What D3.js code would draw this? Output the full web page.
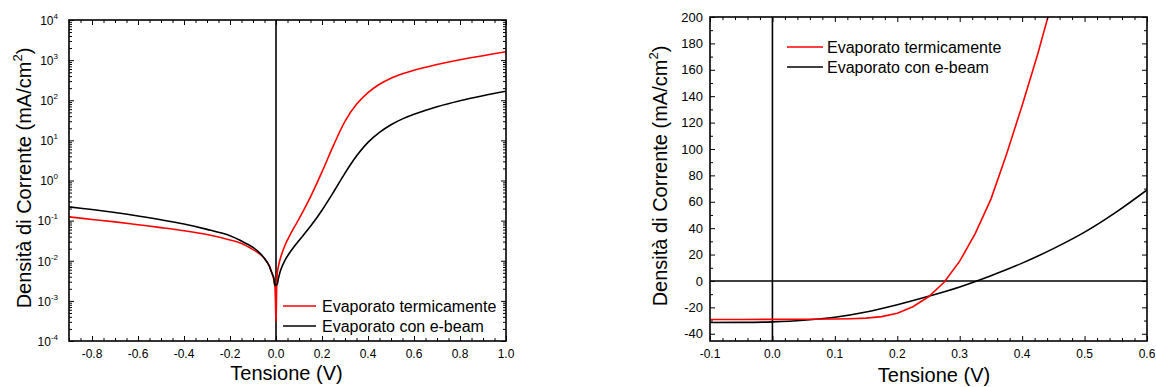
<!DOCTYPE html>
<html>
<head>
<meta charset="utf-8">
<script src="https://cdn.jsdelivr.net/npm/d3@7"></script>
<style>
  html, body { margin: 0; padding: 0; background: #fff; }
  svg { display: block; }
  text { font-family: "Liberation Sans", Arial, sans-serif; fill: #000; }
</style>
</head>
<body>
<svg id="chart" width="1156" height="387"></svg>
<script>
// ---- Series names ----
const seriesNames = ["Evaporato termicamente", "Evaporato con e-beam"];
const seriesColors = ["#ff0000", "#000000"];

// ---- Left panel: |J| (mA/cm²) vs V, log scale ----
const thermV_log = [-0.9, -0.8, -0.7, -0.6, -0.5, -0.4, -0.3, -0.2, -0.15, -0.1, -0.07, -0.05, -0.03, -0.02, -0.01, -0.005, 0.0,
  0.005, 0.01, 0.02, 0.04, 0.06, 0.08, 0.10, 0.15, 0.20, 0.25, 0.30, 0.35, 0.40,
  0.45, 0.50, 0.55, 0.60, 0.70, 0.80, 0.90, 1.00];
const thermJ_log = [0.124, 0.107, 0.093, 0.079, 0.067, 0.056, 0.045, 0.033, 0.027, 0.019, 0.0146, 0.0114, 0.0078, 0.0053, 0.0035, 0.0024, 0.0003,
  0.0045, 0.007, 0.012, 0.025, 0.043, 0.07, 0.11, 0.39, 1.64, 7.5, 29.9, 79, 155,
  251, 355, 457, 562, 776, 1023, 1288, 1622];

const ebeamV_log = [-0.9, -0.8, -0.7, -0.6, -0.5, -0.4, -0.3, -0.2, -0.15, -0.1, -0.07, -0.05, -0.03, -0.02, -0.01, -0.005, 0.0,
  0.005, 0.01, 0.02, 0.04, 0.06, 0.08, 0.10, 0.15, 0.20, 0.25, 0.30, 0.35, 0.40,
  0.45, 0.50, 0.55, 0.60, 0.70, 0.80, 0.90, 1.00];
const ebeamJ_log = [0.22, 0.189, 0.159, 0.131, 0.105, 0.082, 0.0605, 0.042, 0.031, 0.0215, 0.0155, 0.0114, 0.0075, 0.0053, 0.0039, 0.0025, 0.0025,
  0.0026, 0.0035, 0.0058, 0.0105, 0.016, 0.023, 0.032, 0.072, 0.182, 0.513, 1.53, 4.07, 8.9,
  15.8, 24.5, 34.3, 44.7, 69.2, 97.7, 130, 168];

// ---- Right panel: J (mA/cm²) vs V, linear scale ----
const thermV_lin = [-0.1, -0.05, 0.0, 0.05, 0.1, 0.125, 0.15, 0.175, 0.2, 0.225, 0.25, 0.275, 0.3, 0.325, 0.35, 0.375, 0.4, 0.425, 0.45];
const thermJ_lin = [-29.2, -29.2, -29.1, -29.0, -28.8, -28.6, -28.2, -27.0, -24.5, -19.5, -12.0, -1.0, 15, 36, 62, 96, 133, 172, 215];

const ebeamV_lin = [-0.1, -0.05, 0.0, 0.05, 0.1, 0.15, 0.2, 0.25, 0.3, 0.35, 0.4, 0.45, 0.5, 0.55, 0.6];
const ebeamJ_lin = [-31.5, -31.4, -31.0, -29.8, -27.5, -23.5, -18.0, -11.6, -4.5, 4.0, 13.5, 24.5, 37, 52, 69];

// ---- Tick labels ----
const leftXTicks = [-0.8, -0.6, -0.4, -0.2, 0.0, 0.2, 0.4, 0.6, 0.8, 1.0];
const leftXTickLabels = ["-0.8", "-0.6", "-0.4", "-0.2", "0.0", "0.2", "0.4", "0.6", "0.8", "1.0"];
const leftYExponents = [-4, -3, -2, -1, 0, 1, 2, 3, 4];
const rightXTicks = [-0.1, 0.0, 0.1, 0.2, 0.3, 0.4, 0.5, 0.6];
const rightXTickLabels = ["-0.1", "0.0", "0.1", "0.2", "0.3", "0.4", "0.5", "0.6"];
const rightYTicks = [-40, -20, 0, 20, 40, 60, 80, 100, 120, 140, 160, 180, 200];
const rightYTickLabels = ["-40", "-20", "0", "20", "40", "60", "80", "100", "120", "140", "160", "180", "200"];

const xTitle = "Tensione (V)";
const yTitleMain = "Densità di Corrente (mA/cm";
const yTitleSup = "2";

const svg = d3.select("#chart");

const MAJOR = 5, MINOR = 3;

function range(a, b, step) {
  const out = [];
  const n = Math.round((b - a) / step);
  for (let i = 0; i <= n; i++) out.push(+(a + i * step).toFixed(6));
  return out;
}

function drawTicks(g, axisFn, scale, values, size, transform) {
  g.append("g")
    .attr("transform", transform)
    .call(axisFn(scale).tickValues(values).tickSizeInner(size).tickSizeOuter(0).tickFormat(""))
    .call(s => s.select(".domain").remove())
    .call(s => s.selectAll(".tick line").attr("stroke", "#000").attr("stroke-width", 1));
}

function frame(g, x0, y0, x1, y1) {
  g.append("rect")
    .attr("x", x0).attr("y", y0)
    .attr("width", x1 - x0).attr("height", y1 - y0)
    .attr("fill", "none").attr("stroke", "#000").attr("stroke-width", 1.6);
}

function yTitle(g, x, yc) {
  const t = g.append("text")
    .attr("transform", `translate(${x},${yc}) rotate(-90)`)
    .attr("text-anchor", "middle")
    .attr("font-size", 20);
  t.append("tspan").text(yTitleMain);
  t.append("tspan").attr("font-size", 13).attr("dy", -9).text(yTitleSup);
  t.append("tspan").attr("dy", 9).text(")");
}

function legend(g, x0, x1, tx, y0) {
  seriesNames.forEach((name, i) => {
    const y = y0 + i * 20;
    g.append("line").attr("x1", x0).attr("x2", x1).attr("y1", y).attr("y2", y)
      .attr("stroke", seriesColors[i]).attr("stroke-width", 1.6);
    g.append("text").attr("x", tx).attr("y", y).attr("dy", "0.36em")
      .attr("font-size", 16).text(name);
  });
}

// =================== Left panel ===================
{
  const L = 69, R = 506, T = 20, B = 341;
  const g = svg.append("g");
  const x = d3.scaleLinear().domain([-0.9, 1.0]).range([L, R]);
  const y = d3.scaleLog().domain([1e-4, 1e4]).range([B, T]);

  svg.append("clipPath").attr("id", "clipL").append("rect")
    .attr("x", L).attr("y", T).attr("width", R - L).attr("height", B - T);

  // zero-voltage line
  g.append("line").attr("x1", x(0)).attr("x2", x(0)).attr("y1", T).attr("y2", B)
    .attr("stroke", "#000").attr("stroke-width", 1.6);

  const line = d3.line().curve(d3.curveCatmullRom.alpha(0.5));
  // thermal (red) first, e-beam (black) on top
  [[thermV_log, thermJ_log, seriesColors[0]], [ebeamV_log, ebeamJ_log, seriesColors[1]]]
    .forEach(([vs, js, c]) => {
      g.append("path")
        .attr("clip-path", "url(#clipL)")
        .attr("d", line(vs.map((v, i) => [x(v), y(js[i])])))
        .attr("fill", "none").attr("stroke", c).attr("stroke-width", 1.6);
    });

  // ticks
  const xMinor = range(-0.9, 1.0, 0.05).filter(v => !leftXTicks.some(t => Math.abs(t - v) < 1e-6));
  drawTicks(g, d3.axisBottom, x, leftXTicks, -MAJOR, `translate(0,${B})`);
  drawTicks(g, d3.axisBottom, x, xMinor, -MINOR, `translate(0,${B})`);
  drawTicks(g, d3.axisTop, x, leftXTicks, -MAJOR, `translate(0,${T})`);
  drawTicks(g, d3.axisTop, x, xMinor, -MINOR, `translate(0,${T})`);

  const yMajor = leftYExponents.map(e => Math.pow(10, e));
  const yMinor = [];
  leftYExponents.slice(0, -1).forEach(e => { for (let k = 2; k <= 9; k++) yMinor.push(k * Math.pow(10, e)); });
  drawTicks(g, d3.axisLeft, y, yMajor, -MAJOR, `translate(${L},0)`);
  drawTicks(g, d3.axisLeft, y, yMinor, -MINOR, `translate(${L},0)`);
  drawTicks(g, d3.axisRight, y, yMajor, -MAJOR, `translate(${R},0)`);
  drawTicks(g, d3.axisRight, y, yMinor, -MINOR, `translate(${R},0)`);

  frame(g, L, T, R, B);

  // tick labels
  leftXTicks.forEach((v, i) => {
    g.append("text").attr("x", x(v)).attr("y", 358).attr("text-anchor", "middle")
      .attr("font-size", 12).text(leftXTickLabels[i]);
  });
  leftYExponents.forEach(e => {
    const t = g.append("text").attr("x", 58).attr("y", y(Math.pow(10, e))).attr("dy", "0.4em")
      .attr("text-anchor", "end").attr("font-size", 12);
    t.append("tspan").text("10");
    t.append("tspan").attr("font-size", 8).attr("dy", -6).text(String(e));
  });

  g.append("text").attr("x", (L + R) / 2 - 1).attr("y", 380).attr("text-anchor", "middle")
    .attr("font-size", 20).text(xTitle);
  yTitle(g, 31, 178);

  legend(g, 283, 316, 322, 306);
}

// =================== Right panel ===================
{
  const L = 710, R = 1147, T = 17, B = 341;
  const g = svg.append("g");
  const x = d3.scaleLinear().domain([-0.1, 0.6]).range([L, R]);
  const y = d3.scaleLinear().domain([-45.5, 200]).range([B, T]);

  svg.append("clipPath").attr("id", "clipR").append("rect")
    .attr("x", L).attr("y", T).attr("width", R - L).attr("height", B - T);

  // reference axes at V = 0 and J = 0
  g.append("line").attr("x1", x(0)).attr("x2", x(0)).attr("y1", T).attr("y2", B)
    .attr("stroke", "#000").attr("stroke-width", 1.6);
  g.append("line").attr("x1", L).attr("x2", R).attr("y1", y(0)).attr("y2", y(0))
    .attr("stroke", "#000").attr("stroke-width", 1.6);

  const lineLin = d3.line();
  const lineSmooth = d3.line().curve(d3.curveMonotoneX);
  g.append("path").attr("clip-path", "url(#clipR)")
    .attr("d", lineSmooth(ebeamV_lin.map((v, i) => [x(v), y(ebeamJ_lin[i])])))
    .attr("fill", "none").attr("stroke", seriesColors[1]).attr("stroke-width", 1.6);
  g.append("path").attr("clip-path", "url(#clipR)")
    .attr("d", lineLin(thermV_lin.map((v, i) => [x(v), y(thermJ_lin[i])])))
    .attr("fill", "none").attr("stroke", seriesColors[0]).attr("stroke-width", 1.6);

  const xMinor = range(-0.1, 0.6, 0.02).filter(v => !rightXTicks.some(t => Math.abs(t - v) < 1e-6));
  const yMinor = range(-40, 190, 10).filter(v => !rightYTicks.includes(v));
  drawTicks(g, d3.axisBottom, x, rightXTicks, -MAJOR, `translate(0,${B})`);
  drawTicks(g, d3.axisBottom, x, xMinor, -MINOR, `translate(0,${B})`);
  drawTicks(g, d3.axisTop, x, rightXTicks, -MAJOR, `translate(0,${T})`);
  drawTicks(g, d3.axisTop, x, xMinor, -MINOR, `translate(0,${T})`);
  drawTicks(g, d3.axisLeft, y, rightYTicks, -MAJOR, `translate(${L},0)`);
  drawTicks(g, d3.axisLeft, y, yMinor, -MINOR, `translate(${L},0)`);
  drawTicks(g, d3.axisRight, y, rightYTicks, -MAJOR, `translate(${R},0)`);
  drawTicks(g, d3.axisRight, y, yMinor, -MINOR, `translate(${R},0)`);

  frame(g, L, T, R, B);

  rightXTicks.forEach((v, i) => {
    g.append("text").attr("x", x(v)).attr("y", 358).attr("text-anchor", "middle")
      .attr("font-size", 12).text(rightXTickLabels[i]);
  });
  rightYTicks.forEach((v, i) => {
    g.append("text").attr("x", 703).attr("y", y(v)).attr("dy", "0.36em")
      .attr("text-anchor", "end").attr("font-size", 13).text(rightYTickLabels[i]);
  });

  g.append("text").attr("x", 934).attr("y", 382).attr("text-anchor", "middle")
    .attr("font-size", 20).text(xTitle);
  yTitle(g, 667, 176);

  legend(g, 787, 823, 827, 47);
}
</script>
</body>
</html>
